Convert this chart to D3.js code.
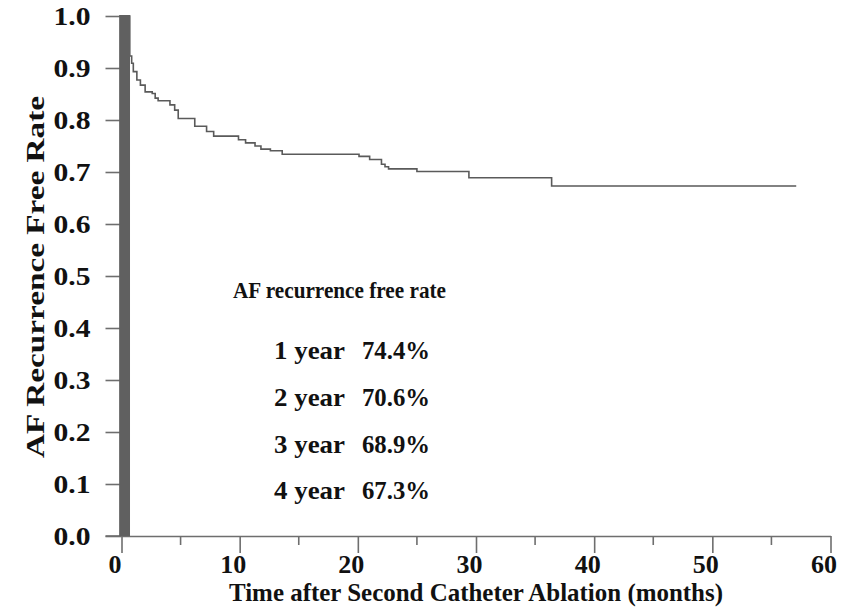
<!DOCTYPE html>
<html>
<head>
<meta charset="utf-8">
<script src="https://cdn.jsdelivr.net/npm/d3@7/dist/d3.min.js"></script>
<style>
  html, body { margin: 0; padding: 0; background: #fff; }
  svg { display: block; }
  text { font-family: "Liberation Serif", "Times New Roman", serif; font-weight: bold; fill: #111; }
</style>
</head>
<body>
<svg id="chart" width="850" height="614"></svg>
<script>
// Kaplan-Meier estimate: months after the second ablation and the recurrence-free fraction
const months = [0, 0.7, 0.86, 1.0, 1.3, 1.6, 2.0, 2.6, 2.85, 3.1, 4.1, 4.5, 4.8, 6.2, 7.2, 7.8,
                9.9, 10.5, 11.3, 11.8, 12.6, 13.6, 20.1, 21.0, 22.0, 22.3, 22.6, 25.0, 29.4, 36.4, 57.1];
const freeRate = [1.0, 0.923, 0.909, 0.893, 0.877, 0.867, 0.854, 0.851, 0.842, 0.837, 0.829, 0.819, 0.803, 0.788, 0.778, 0.769,
                  0.762, 0.756, 0.750, 0.744, 0.741, 0.734, 0.730, 0.724, 0.715, 0.710, 0.706, 0.701, 0.689, 0.673, 0.673];

// blanking period shown as a shaded band at the start of follow-up (months)
const blanking = [-0.2, 0.72];

// axis ticks
const xMajorTicks = [0, 10, 20, 30, 40, 50, 60];
const xMinorTicks = [5, 15, 25, 35, 45, 55];
const yTicks = [0.0, 0.1, 0.2, 0.3, 0.4, 0.5, 0.6, 0.7, 0.8, 0.9, 1.0];

// summary table
const summaryTitle = "AF recurrence free rate";
const summaryYears = ["1 year", "2 year", "3 year", "4 year"];
const summaryRates = [74.4, 70.6, 68.9, 67.3];

const xTitle = "Time after Second Catheter Ablation (months)";
const yTitle = "AF Recurrence Free Rate";

const svg = d3.select("#chart");
const x = d3.scaleLinear().domain([0, 60]).range([121.5, 830.5]);
const y = d3.scaleLinear().domain([0, 1]).range([536, 16]);

const axisColor = "#6e6e6e";
const font = "Liberation Serif";

// survival curve
const pts = months.map((m, i) => [m, freeRate[i]]);
svg.append("path")
  .datum(pts)
  .attr("fill", "none")
  .attr("stroke", "#5a5a5a")
  .attr("stroke-width", 1.6)
  .attr("d", d3.line().x(d => x(d[0])).y(d => y(d[1])).curve(d3.curveStepAfter));

// x axis: major and minor ticks
const xAxis = svg.append("g").attr("transform", `translate(0,${y(0)})`)
  .call(d3.axisBottom(x).tickValues(xMajorTicks).tickSize(17).tickSizeOuter(0).tickFormat(d3.format("d")));
xAxis.select(".domain").attr("stroke", axisColor).attr("stroke-width", 1.6);
xAxis.selectAll(".tick line").attr("stroke", axisColor).attr("stroke-width", 1.6);
xAxis.selectAll(".tick text")
  .attr("y", 19).attr("dy", "0.71em").attr("dx", -7)
  .style("font-size", "26px").style("font-family", font).style("font-weight", "bold").attr("fill", "#111");

svg.append("g").selectAll("line").data(xMinorTicks).join("line")
  .attr("x1", d => x(d)).attr("x2", d => x(d))
  .attr("y1", y(0)).attr("y2", y(0) + 9)
  .attr("stroke", axisColor).attr("stroke-width", 1.6);

// y axis
const yAxis = svg.append("g").attr("transform", `translate(${x(0)},0)`)
  .call(d3.axisLeft(y).tickValues(yTicks).tickSize(16).tickSizeOuter(0).tickFormat(d3.format(".1f")));
yAxis.select(".domain").attr("stroke", axisColor).attr("stroke-width", 1.6);
yAxis.selectAll(".tick line").attr("stroke", axisColor).attr("stroke-width", 1.6);
yAxis.selectAll(".tick text")
  .attr("x", -31).attr("dy", "0.34em")
  .attr("textLength", 37).attr("lengthAdjust", "spacingAndGlyphs")
  .style("font-size", "26px").style("font-family", font).style("font-weight", "bold").attr("fill", "#111");

// x-axis domain line continues left under the y ticks
svg.append("line")
  .attr("x1", x(0) - 16).attr("x2", x(0))
  .attr("y1", y(0)).attr("y2", y(0))
  .attr("stroke", axisColor).attr("stroke-width", 1.6);

// shaded blanking band
svg.append("rect")
  .attr("x", x(blanking[0]))
  .attr("width", x(blanking[1]) - x(blanking[0]))
  .attr("y", y(1) - 1)
  .attr("height", y(0) - y(1) + 1)
  .attr("fill", "#606060");

// axis titles
svg.append("text")
  .attr("x", 476).attr("y", 601)
  .attr("text-anchor", "middle")
  .style("font-size", "26px")
  .attr("textLength", 494).attr("lengthAdjust", "spacingAndGlyphs")
  .text(xTitle);

svg.append("text")
  .attr("transform", "translate(44,277) rotate(-90)")
  .attr("text-anchor", "middle")
  .style("font-size", "26px")
  .attr("textLength", 362).attr("lengthAdjust", "spacingAndGlyphs")
  .text(yTitle);

// summary of recurrence-free rates
svg.append("text")
  .attr("x", 233).attr("y", 298)
  .style("font-size", "24px")
  .attr("textLength", 213).attr("lengthAdjust", "spacingAndGlyphs")
  .text(summaryTitle);

const rows = svg.append("g").selectAll("g").data(summaryYears).join("g")
  .attr("transform", (d, i) => `translate(0,${[359, 406, 453, 499][i]})`);
rows.append("text")
  .attr("x", 274)
  .style("font-size", "26px")
  .attr("textLength", 71).attr("lengthAdjust", "spacingAndGlyphs")
  .text(d => d);
rows.append("text")
  .attr("x", 362)
  .style("font-size", "26px")
  .attr("textLength", 68).attr("lengthAdjust", "spacingAndGlyphs")
  .text((d, i) => summaryRates[i].toFixed(1) + "%");
</script>
</body>
</html>
